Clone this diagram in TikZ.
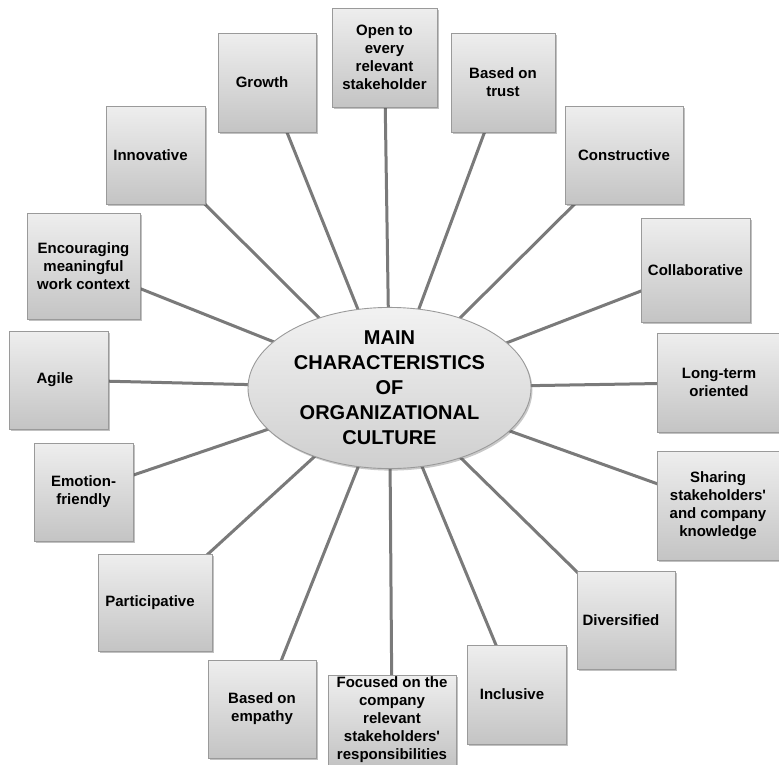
\documentclass[tikz,border=0pt]{standalone}
\usepackage{fontspec}
\newfontfamily\lfont{Liberation Sans}
\usetikzlibrary{shapes.geometric,shadows,backgrounds}
\definecolor{boxtop}{HTML}{EEEEEE}
\definecolor{boxbot}{HTML}{C4C4C4}
\definecolor{boxline}{HTML}{9A9A9A}
\definecolor{conncol}{HTML}{7A7A7A}
\definecolor{elltop}{HTML}{F2F2F2}
\definecolor{ellbot}{HTML}{CFCFCF}
\tikzset{
  box/.style={draw=boxline, line width=0.9pt, top color=boxtop, bottom color=boxbot,
    drop shadow={shadow xshift=1.5pt, shadow yshift=-1.5pt, opacity=0.35, fill=black!70},
    align=center, inner sep=0pt, text=black,
    font=\lfont\bfseries\fontsize{15}{18}\selectfont},
  ell/.style={ellipse, draw=boxline, line width=0.9pt, top color=elltop, bottom color=ellbot,
    drop shadow={shadow xshift=1.5pt, shadow yshift=-2pt, opacity=0.3, fill=black!70},
    align=center, inner sep=0pt, text=black,
    font=\lfont\bfseries\fontsize{20}{25}\selectfont},
  conn/.style={draw=conncol, line width=3pt}
}
\begin{document}
\begin{tikzpicture}[x=1pt,y=-1pt]
\useasboundingbox (0,0) rectangle (779,764);
\node[ell, minimum width=283pt, minimum height=152pt] (E) at (389.5,388)
  {MAIN\\CHARACTERISTICS\\OF\\ORGANIZATIONAL\\CULTURE};
\node[box, minimum width=105pt, minimum height=99pt] (open) at (384.5,57.5) {Open to\\every\\relevant\\stakeholder};
\node[box, minimum width=104pt, minimum height=99pt] (trust) at (503,82.5) {Based on\\trust};
\node[box, minimum width=98pt, minimum height=99pt] (growth) at (267,82.5) {Growth\hspace*{10pt}};
\node[box, minimum width=99pt, minimum height=98pt] (innov) at (155.5,155) {Innovative\hspace*{10pt}};
\node[box, minimum width=118pt, minimum height=98pt] (constr) at (624,155) {Constructive};
\node[box, minimum width=113pt, minimum height=106pt] (encour) at (83.5,266) {Encouraging\\meaningful\\work context};
\node[box, minimum width=109pt, minimum height=104pt] (collab) at (695.5,270) {Collaborative};
\node[box, minimum width=99pt, minimum height=98pt] (agile) at (58.5,380) {Agile\hspace*{7pt}};
\node[box, minimum width=124pt, minimum height=99pt] (longterm) at (719,382.5) {Long-term\\oriented};
\node[box, minimum width=99pt, minimum height=98pt] (emotion) at (83.5,492) {Emotion-\\friendly};
\node[box, minimum width=122pt, minimum height=109pt] (sharing) at (718,505.5) {Sharing\\stakeholders'\\and company\\knowledge};
\node[box, minimum width=114pt, minimum height=97pt] (partic) at (155,602.5) {Participative\hspace*{10pt}};
\node[box, minimum width=98pt, minimum height=98pt] (divers) at (626,620) {Diversified\hspace*{10pt}};
\node[box, minimum width=108pt, minimum height=98pt] (empathy) at (262,709) {Based on\\empathy};
\node[box, minimum width=128pt, minimum height=90pt] (focused) at (392,720) {Focused on the\\company\\relevant\\stakeholders'\\responsibilities};
\node[box, minimum width=99pt, minimum height=99pt] (inclusive) at (516.5,694.5) {Inclusive\hspace*{9pt}};
\begin{scope}[on background layer]
\foreach \n in {open,trust,growth,innov,constr,encour,collab,agile,longterm,emotion,sharing,partic,divers,empathy,focused,inclusive}
  \draw[conn] (E.center) -- (\n.center);
\end{scope}
\end{tikzpicture}
\end{document}
